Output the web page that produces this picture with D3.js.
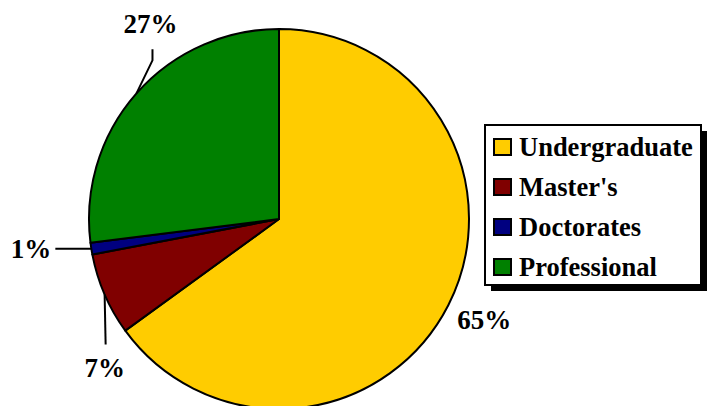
<!DOCTYPE html>
<html>
<head>
<meta charset="utf-8">
<script src="https://cdn.jsdelivr.net/npm/d3@7"></script>
<style>
  html, body { margin: 0; padding: 0; background: #fff; }
  svg { display: block; font-family: "Liberation Serif", "Times New Roman", serif; font-weight: bold; }
</style>
</head>
<body>
<svg id="chart"></svg>
<script>
const categories = ["Undergraduate", "Master's", "Doctorates", "Professional"]
const values = [65, 7, 1, 27]
const labels = ["65%", "7%", "1%", "27%"]
const colors = ["#FFCC00", "#800000", "#000080", "#008000"]

const width = 712, height = 406
const cx = 279, cy = 219, radius = 190

const svg = d3.select('#chart')
  .attr('width', width)
  .attr('height', height)
  .attr('viewBox', [0, 0, width, height])

const pie = d3.pie().sort(null).value(d => d)
const arcs = pie(values)
const arc = d3.arc().innerRadius(0).outerRadius(radius)

const g = svg.append('g').attr('transform', `translate(${cx},${cy})`)

g.selectAll('path')
  .data(arcs)
  .join('path')
    .attr('d', arc)
    .attr('fill', (d, i) => colors[i])
    .attr('stroke', '#000')
    .attr('stroke-width', 2)
    .attr('stroke-linejoin', 'round')

// point on the rim at the slice's middle angle
const rim = (d, r) => {
  const a = (d.startAngle + d.endAngle) / 2
  return [r * Math.sin(a), -r * Math.cos(a)]
}

// label placement per slice: leader path offsets from rim, then text offset
const leaders = [
  { path: null, text: [9, 24], anchor: 'start' },
  { path: [[0, 0], [1, 50]], text: [0, 83], anchor: 'middle' },
  { path: [[0, 0], [-36, 0]], text: [-40, 9], anchor: 'end' },
  { path: [[0, 0], [16, -33], [16, -44]], text: [14, -60], anchor: 'middle' }
]

arcs.forEach((d, i) => {
  const [x0, y0] = rim(d, radius)
  const L = leaders[i]
  if (L.path) {
    g.append('path')
      .attr('d', d3.line()(L.path.map(p => [x0 + p[0], y0 + p[1]])))
      .attr('fill', 'none')
      .attr('stroke', '#000')
      .attr('stroke-width', 2)
  }
  g.append('text')
    .attr('x', x0 + L.text[0])
    .attr('y', y0 + L.text[1])
    .attr('text-anchor', L.anchor)
    .attr('font-size', 27)
    .text(labels[i])
})

// legend
const lg = svg.append('g').attr('transform', 'translate(485,125)')
const lw = 216, lh = 160
lg.append('rect').attr('x', 6).attr('y', 6).attr('width', lw).attr('height', lh).attr('fill', '#000')
lg.append('rect').attr('width', lw).attr('height', lh).attr('fill', '#fff').attr('stroke', '#000').attr('stroke-width', 2)

const items = lg.selectAll('g.item')
  .data(categories)
  .join('g')
    .attr('class', 'item')
    .attr('transform', (d, i) => `translate(9,${14 + i * 40})`)
items.append('rect')
  .attr('width', 17).attr('height', 16)
  .attr('fill', (d, i) => colors[i])
  .attr('stroke', '#000').attr('stroke-width', 2)
items.append('text')
  .attr('x', 25).attr('y', 17)
  .attr('font-size', 26.5)
  .text(d => d)
</script>
</body>
</html>
